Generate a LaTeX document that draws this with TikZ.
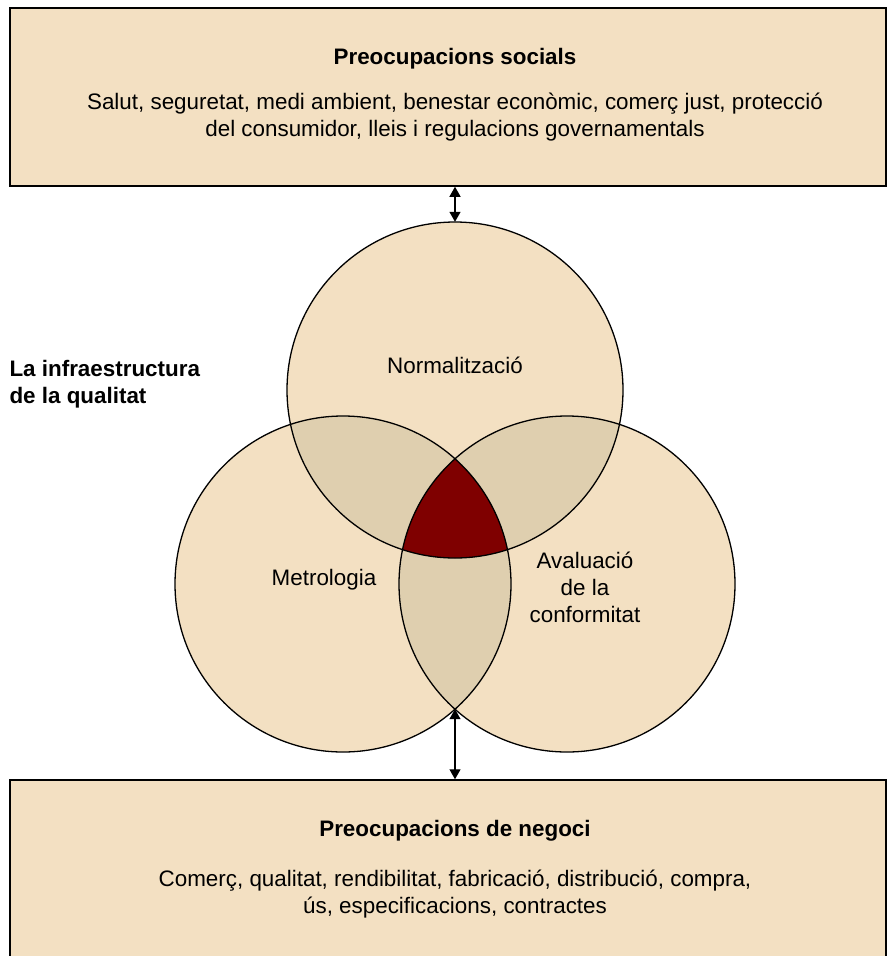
\documentclass[tikz,border=0pt]{standalone}
\usepackage{fontspec}
\setmainfont{Liberation Sans}
\usetikzlibrary{arrows.meta}

\definecolor{sand}{HTML}{F3E0C2}
\definecolor{lensfill}{HTML}{DFCFAF}
\definecolor{corefill}{HTML}{7F0000}

\tikzset{
  panel/.style={draw=black, line width=1.5pt, fill=sand, minimum width=876pt, inner sep=0pt},
  ring/.style={circle, fill=sand, minimum size=336pt, inner sep=0pt},
  lens/.style={fill=lensfill},
  core/.style={fill=corefill},
  head/.style={font=\fontsize{22.4}{27}\selectfont\bfseries},
  body/.style={font=\fontsize{22.4}{27}\selectfont, align=center},
  link/.style={line width=1.3pt, {Triangle[length=10pt,width=11pt]}-{Triangle[length=10pt,width=11pt]}}
}

\begin{document}
\begin{tikzpicture}[x=1pt,y=-1pt]
  \useasboundingbox (0,0) rectangle (887,956);
  \clip (0,0) rectangle (887,956);

  % boxes top and bottom
  \node[panel, minimum height=178pt] (social) at (448,97) {};
  \node[head] (socialtitle) at (455,59) {Preocupacions socials};
  \node[body] (socialtext) at (455,117) {Salut, seguretat, medi ambient, benestar econòmic, comerç just, protecció\\del consumidor, lleis i regulacions governamentals};

  \node[panel, minimum height=200pt] (business) at (448,880) {};
  \node[head] (businesstitle) at (455,831) {Preocupacions de negoci};
  \node[body] (businesstext) at (455,894) {Comerç, qualitat, rendibilitat, fabricació, distribució, compra,\\ús, especificacions, contractes};

  % the three circles
  \node[ring] (norm) at (455,390) {};
  \node[ring] (metro) at (343,584) {};
  \node[ring] (conf) at (567,584) {};

  % overlaps
  \begin{scope}
    \clip (norm.center) circle [radius=168];
    \fill[lens] (metro.center) circle [radius=168];
    \fill[lens] (conf.center) circle [radius=168];
  \end{scope}
  \begin{scope}
    \clip (metro.center) circle [radius=168];
    \fill[lens] (conf.center) circle [radius=168];
  \end{scope}
  \begin{scope}
    \clip (norm.center) circle [radius=168];
    \clip (metro.center) circle [radius=168];
    \fill[core] (conf.center) circle [radius=168];
  \end{scope}

  \foreach \c in {norm,metro,conf}
    \draw[line width=1.3pt] (\c.center) circle [radius=168];

  % labels
  \node[body] (normlabel) at (455,365) {Normalització};
  \node[body] (metrolabel) at (324,580) {Metrologia};
  \node[body] (conflabel) at (585,587) {Avaluació\\de la\\conformitat};
  \node[head, anchor=west, align=left] (infra) at (6,384) {La infraestructura\\de la qualitat};

  % arrows
  \coordinate (lowmeet) at (455,709.2);
  \draw[link] (social.south -| norm.north) -- (norm.north);
  \draw[link] (lowmeet) -- (lowmeet |- business.north);
\end{tikzpicture}
\end{document}
